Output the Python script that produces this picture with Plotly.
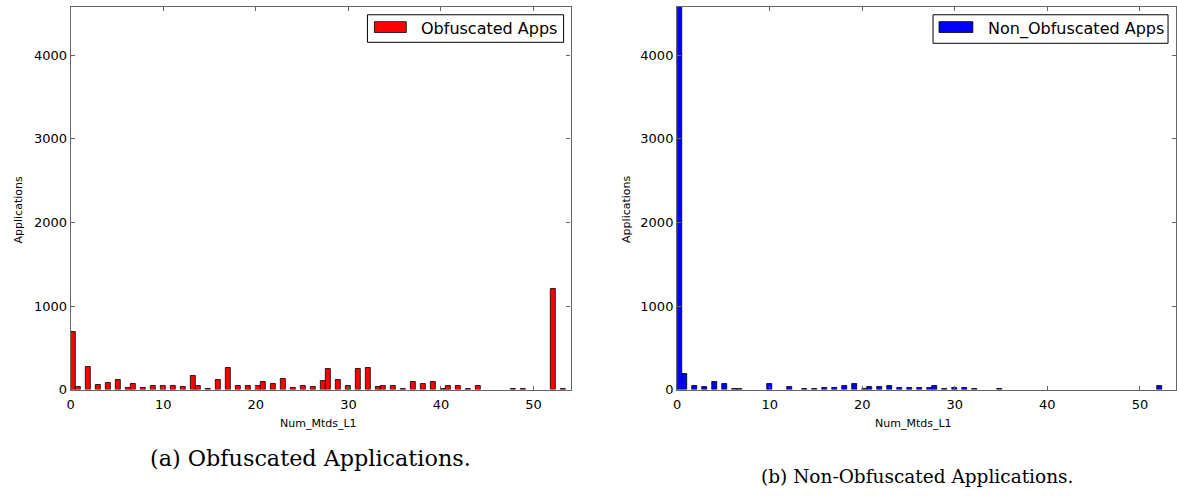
import numpy as np
import plotly.graph_objects as go

# ---- data ----
num_mtds_values = list(range(55))
obfuscated_counts = [690, 30, 275, 62, 75, 120, 20, 70, 15, 50,
                     45, 45, 30, 170, 50, 5, 120, 265, 45, 50,
                     50, 90, 70, 130, 25, 50, 35, 110, 247, 118,
                     40, 247, 259, 30, 50, 50, 5, 90, 70, 98,
                     10, 45, 40, 5, 50, 0, 0, 0, 3, 3,
                     0, 0, 1200, 5, 0]
non_obfuscated_counts = [4580, 190, 45, 35, 90, 70, 5, 5, 0, 0,
                         70, 0, 35, 0, 5, 5, 20, 20, 45, 70,
                         3, 28, 28, 45, 20, 20, 20, 20, 40, 5,
                         20, 20, 5, 0, 0, 5, 0, 0, 0, 0,
                         0, 0, 0, 0, 0, 0, 0, 0, 0, 0,
                         0, 0, 40, 0, 0]
n_bins = 100
hist_range = (0, 54)
x_ticks = [0, 10, 20, 30, 40, 50]
y_ticks = [0, 1000, 2000, 3000, 4000]
y_max = 4580
legend_names = ["Obfuscated Apps", "Non_Obfuscated Apps"]
captions = ["(a) Obfuscated Applications.", "(b) Non-Obfuscated Applications."]
x_title = "Num_Mtds_L1"
y_title = "Applications"

W, H = 1177, 496


def px(x):
    return x / W


def py(y):
    return 1 - y / H


def hist(counts):
    h, edges = np.histogram(num_mtds_values, bins=n_bins, range=hist_range, weights=counts)
    centers = (edges[:-1] + edges[1:]) / 2
    widths = np.diff(edges)
    keep = h > 0
    return centers[keep], h[keep], widths[keep]


fig = go.Figure()
colors = ["#ff0000", "#0000ff"]
for i, counts in enumerate([obfuscated_counts, non_obfuscated_counts]):
    c, h, w = hist(counts)
    fig.add_trace(go.Bar(
        x=c, y=h, width=w,
        marker=dict(color=colors[i], line=dict(color="black", width=0.8)),
        xaxis="x" if i == 0 else "x2", yaxis="y" if i == 0 else "y2",
        showlegend=False, name=legend_names[i],
    ))

ydom = [py(396), py(7)]
axis_common = dict(showline=True, linecolor="#666666", linewidth=1.2, mirror="allticks",
                   ticks="inside", ticklen=4, tickcolor="#666666", showgrid=False,
                   zeroline=False, tickfont=dict(family="DejaVu Sans", size=13, color="black"))
fig.update_layout(
    width=W, height=H, margin=dict(l=0, r=0, t=0, b=0),
    paper_bgcolor="white", plot_bgcolor="white", bargap=0,
    xaxis=dict(domain=[px(67), px(569)], range=[0, 54], tickvals=x_ticks, anchor="y",
               ticklabelstandoff=3, **axis_common),
    yaxis=dict(domain=ydom, range=[0, y_max], tickvals=y_ticks, anchor="x", **axis_common),
    xaxis2=dict(domain=[px(676), 1.0], range=[0, 53.9], tickvals=x_ticks, anchor="y2",
                ticklabelstandoff=3, **axis_common),
    yaxis2=dict(domain=ydom, range=[0, y_max], tickvals=y_ticks, anchor="x2", **axis_common),
)

shapes = []
annots = []
# legends
legend_boxes = [(365, 562, 15, 43, 372, 404, 417), (933, 1169, 15, 44, 939, 973, 986)]
for i, (x0, x1, y0, y1, p0, p1, tx) in enumerate(legend_boxes):
    shapes.append(dict(type="rect", xref="paper", yref="paper", x0=px(x0), x1=px(x1), y0=py(y1), y1=py(y0),
                       line=dict(color="black", width=1), fillcolor="white"))
    shapes.append(dict(type="rect", xref="paper", yref="paper", x0=px(p0), x1=px(p1), y0=py(33), y1=py(22),
                       line=dict(color="black", width=0.8), fillcolor=colors[i]))
    annots.append(dict(text=legend_names[i], xref="paper", yref="paper", x=px(tx), y=py((y0 + y1) / 2),
                       xanchor="left", yanchor="middle", showarrow=False,
                       font=dict(family="DejaVu Sans", size=16, color="black")))
# axis titles
for xc in [316, 913]:
    annots.append(dict(text=x_title, xref="paper", yref="paper", x=px(xc), y=py(430),
                       xanchor="center", yanchor="middle", showarrow=False,
                       font=dict(family="DejaVu Sans", size=11, color="black")))
for xc in [15, 625]:
    annots.append(dict(text=y_title, xref="paper", yref="paper", x=px(xc), y=py(213),
                       xanchor="center", yanchor="middle", showarrow=False, textangle=-90,
                       font=dict(family="DejaVu Sans", size=11, color="black")))
# captions
for (xc, yc, fs), t in zip([(308, 466, 22.3), (917, 484, 18.5)], captions):
    annots.append(dict(text=t, xref="paper", yref="paper", x=px(xc), y=py(yc),
                       xanchor="center", yanchor="middle", showarrow=False,
                       font=dict(family="DejaVu Serif", size=fs, color="black")))

fig.update_layout(shapes=shapes, annotations=annots)
fig.write_html("out.html")
